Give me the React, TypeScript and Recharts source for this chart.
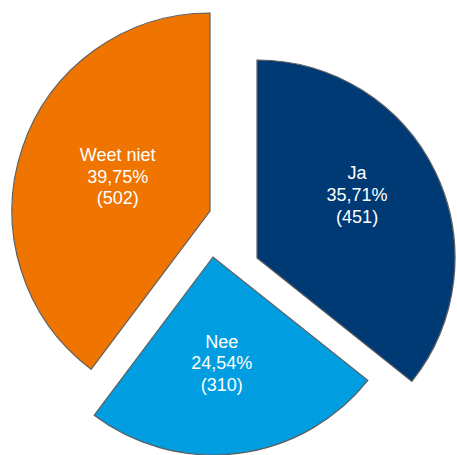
import { PieChart, Pie, Cell } from "recharts";

const categories = ["Ja", "Nee", "Weet niet"];
const counts = [451, 310, 502];

const colors = ["#003a74", "#009ee0", "#ef7400"];
// each slice is pulled out on its own, so each gets its own center
const centers = [
    { cx: 257, cy: 258 },
    { cx: 213, cy: 257 },
    { cx: 210, cy: 211 },
];
const labelNudge = [
    { dx: 2, dy: -17 },
    { dx: -5, dy: -3 },
    { dx: 11, dy: -1 },
];

const data = categories.map((name, i) => ({ name, value: counts[i] }));

const RADIAN = Math.PI / 180;

const makeLabel = (target: number) => (props: any) => {
    const { cx, cy, midAngle, outerRadius, percent, index, payload } = props;
    if (index !== target) return null;
    const r = outerRadius * 0.55;
    const x = cx + r * Math.cos(-midAngle * RADIAN) + labelNudge[index].dx;
    const y = cy + r * Math.sin(-midAngle * RADIAN) + labelNudge[index].dy;
    const pct = (percent * 100).toFixed(2).replace(".", ",") + "%";
    return (
        <text
            x={x}
            y={y}
            fill="#ffffff"
            textAnchor="middle"
            fontSize={18}
            fontFamily="'Liberation Sans', Arial, sans-serif"
        >
            <tspan x={x} dy="-0.8em">{payload.name}</tspan>
            <tspan x={x} dy="1.2em">{pct}</tspan>
            <tspan x={x} dy="1.2em">({payload.value})</tspan>
        </text>
    );
};

export default function App() {
    return (
        <div style={{ position: "absolute", left: 0, top: 0, background: "#fff" }}>
            <PieChart width={457} height={455} margin={{ top: 0, right: 0, bottom: 0, left: 0 }}>
                {centers.map((c, k) => (
                    <Pie
                        key={k}
                        data={data}
                        dataKey="value"
                        nameKey="name"
                        cx={c.cx}
                        cy={c.cy}
                        innerRadius={0}
                        outerRadius={198}
                        startAngle={90}
                        endAngle={-270}
                        isAnimationActive={false}
                        labelLine={false}
                        label={makeLabel(k)}
                    >
                        {data.map((d, i) => (
                            <Cell
                                key={d.name}
                                fill={i === k ? colors[i] : "none"}
                                stroke={i === k ? "#5f5f5f" : "none"}
                                strokeWidth={1.2}
                            />
                        ))}
                    </Pie>
                ))}
            </PieChart>
        </div>
    );
}
